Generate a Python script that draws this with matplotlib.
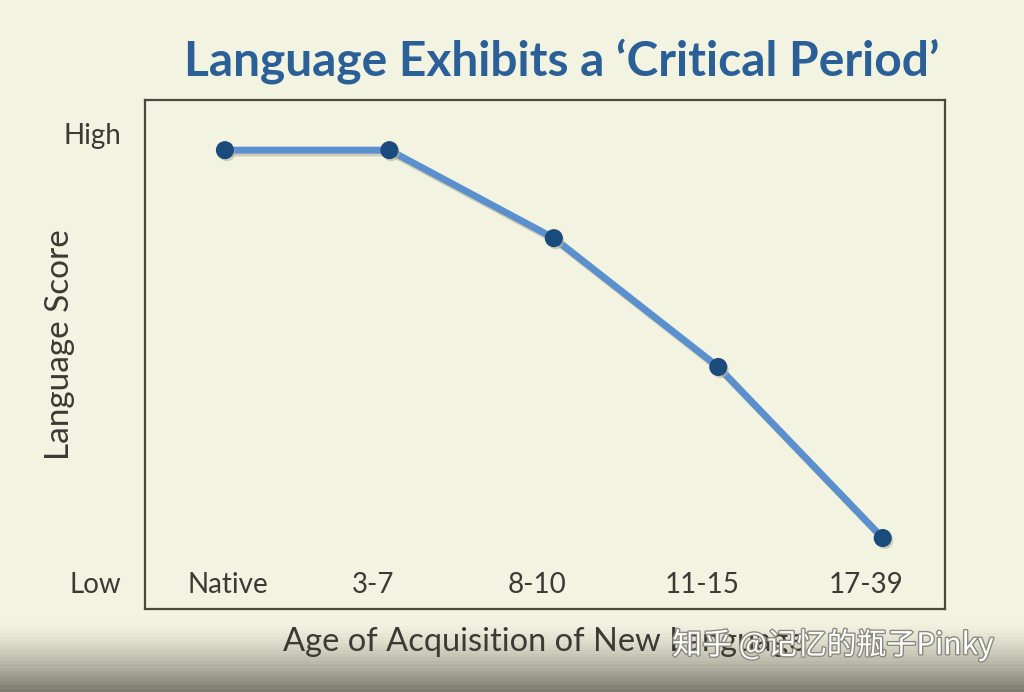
import numpy as np
import matplotlib.pyplot as plt
import matplotlib.patheffects as pe
from matplotlib.colors import LinearSegmentedColormap

# data (score 0 = Low, 100 = High)
ages = ['Native', '3-7', '8-10', '11-15', '17-39']
scores = [96.2, 96.2, 76.6, 47.9, 9.8]
y_ticks = [0, 100]
y_tick_labels = ['Low', 'High']

bg = '#f2f3e0'
txt = '#3a3a36'

fig = plt.figure(figsize=(10.24, 6.92), dpi=100)
fig.patch.set_facecolor(bg)

# darker strip at the very bottom of the screenshot
bgax = fig.add_axes([0, 0, 1, 1], zorder=-1)
grad = np.linspace(0, 1, 200)[:, None]
grad = np.clip((grad - 0.90) / 0.10, 0, 1) ** 1.4
cmap = LinearSegmentedColormap.from_list('strip', [bg, '#7c7c70'])
bgax.imshow(grad, aspect='auto', cmap=cmap, extent=[0, 1, 0, 1])
bgax.axis('off')

ax = fig.add_axes([0.1416, 0.120, 0.781, 0.735])
ax.set_facecolor(bg)

x = np.arange(len(ages))
ax.plot(x, scores, color='#5b90cf', lw=5, solid_capstyle='round', zorder=2,
        path_effects=[pe.SimpleLineShadow(offset=(1.5, -2), shadow_color='#b9b49a', alpha=0.6),
                      pe.Normal()])
ax.plot(x, scores, 'o', color='#1b4a7c', ms=12, zorder=3,
        path_effects=[pe.SimplePatchShadow(offset=(1.5, -2), shadow_rgbFace='#b9b49a', alpha=0.6),
                      pe.Normal()])

ax.set_xlim(-0.486, 4.377)
ax.set_ylim(-6.0, 107.3)

for s in ax.spines.values():
    s.set_color('#4a4a3c')
    s.set_linewidth(1.6)

ax.set_xticks([])
ax.set_yticks(y_ticks)
ax.set_yticklabels(y_tick_labels, fontsize=20, color=txt, family='Lato')
ax.tick_params(axis='y', length=0, pad=17)

# category labels sit inside the frame, just above the bottom edge
for i, lab in enumerate(ages):
    shift = 0.02 if i == 0 else -0.1
    ax.text(i + shift, -0.6, lab, ha='center', va='center', fontsize=20,
            color=txt, family='Lato')

ax.set_ylabel('Language Score', fontsize=24, color=txt, family='Lato')
ax.yaxis.set_label_coords(-0.0875, 0.52)

fig.text(0.549, 0.912, 'Language Exhibits a \u2018Critical Period\u2019', ha='center', va='center',
         fontsize=34.5, fontweight='bold', color='#2b5f98', family='Lato')

fig.text(0.532, 0.072, 'Age of Acquisition of New Language', ha='center', va='center',
         fontsize=23.5, color=txt, family='Lato')

fig.text(0.8135, 0.068, '知乎 @记忆的瓶子Pinky', ha='center', va='center', fontsize=21.5,
         color='white', family=['Noto Sans CJK SC', 'DejaVu Sans'],
         path_effects=[pe.withStroke(linewidth=2, foreground='#8a8a80')])

fig.savefig('out.png', dpi=100, facecolor=bg)
